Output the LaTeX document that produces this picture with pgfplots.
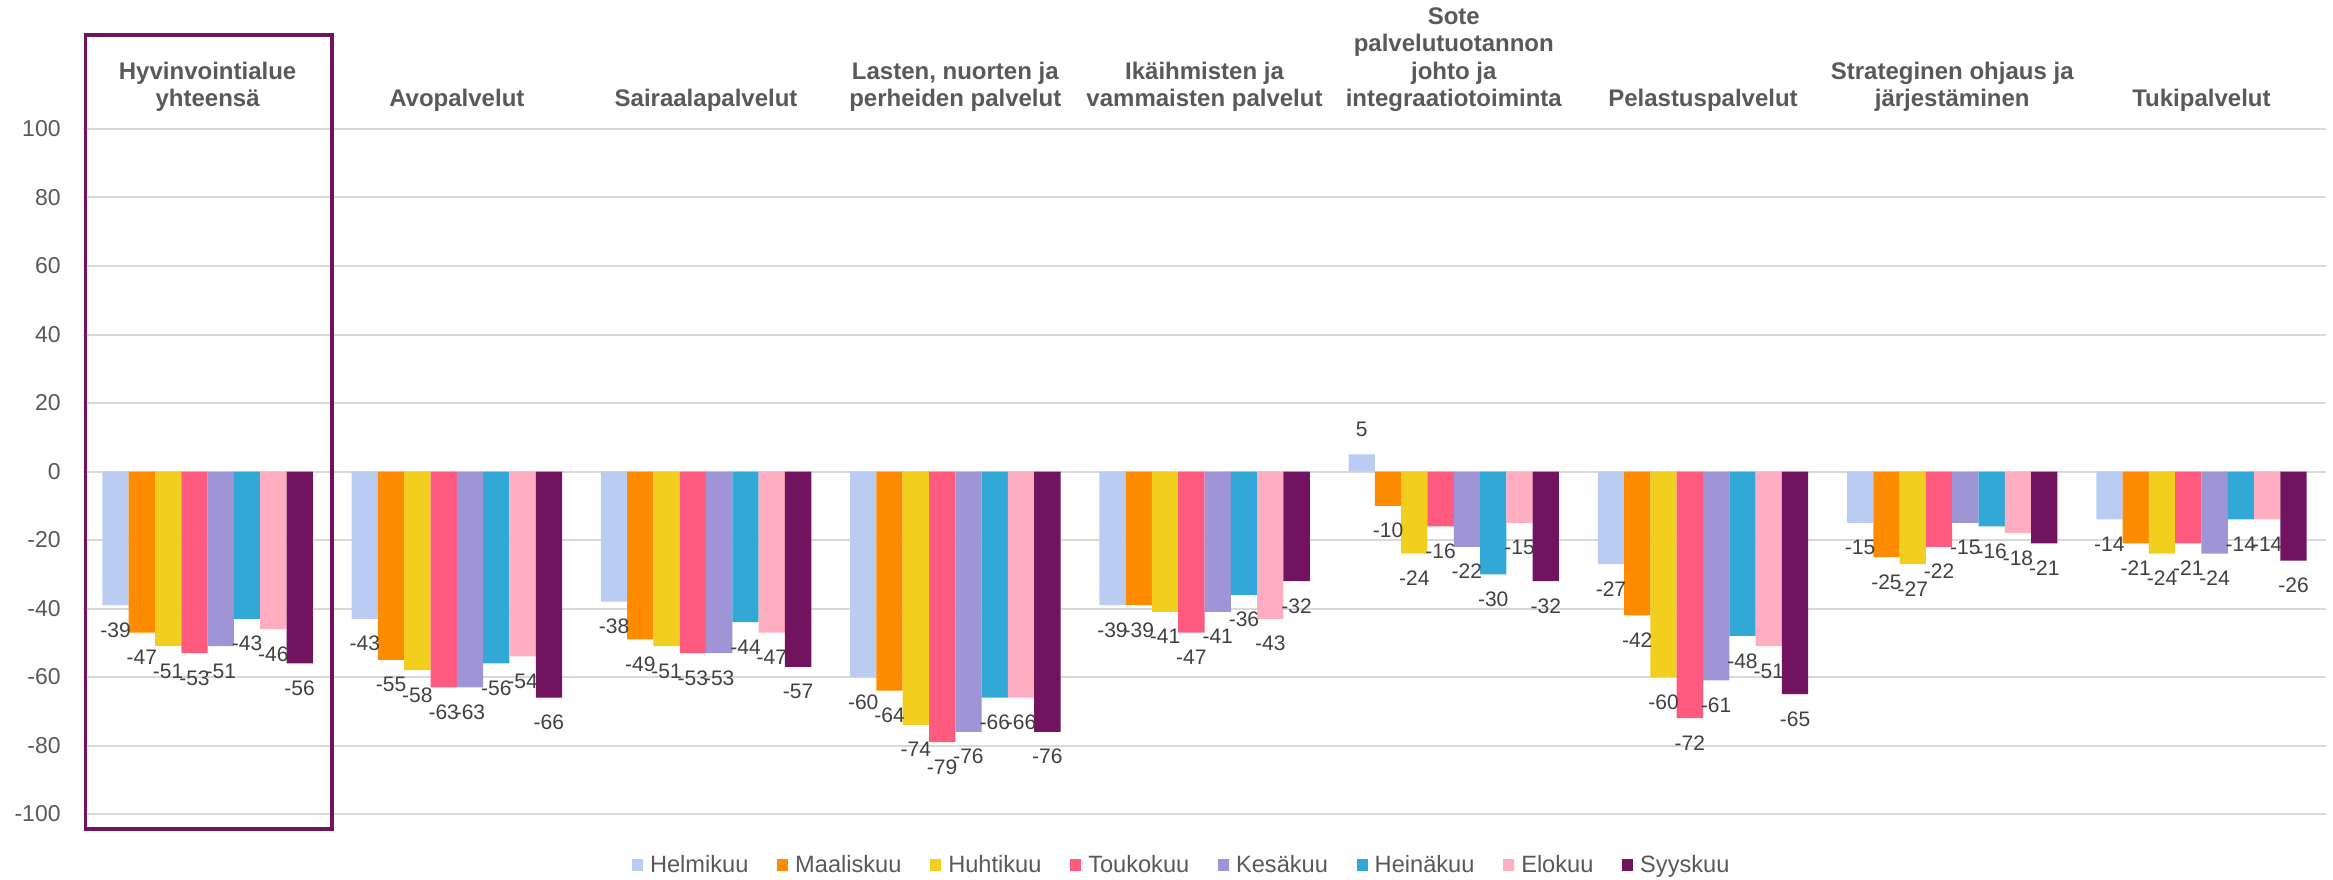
\documentclass[border=0pt]{standalone}
\usepackage{pgfplots}
\usepackage{pgfplotstable}
\pgfplotsset{compat=1.18}
\usepackage{fontspec}
\setmainfont{Liberation Sans}
\definecolor{c1}{HTML}{BBCCF2}
\definecolor{c2}{HTML}{FF8C00}
\definecolor{c3}{HTML}{F2CE1F}
\definecolor{c4}{HTML}{FF5A80}
\definecolor{c5}{HTML}{9F94D6}
\definecolor{c6}{HTML}{31A8D6}
\definecolor{c7}{HTML}{FFADC0}
\definecolor{c8}{HTML}{72135F}
\definecolor{txt}{HTML}{595959}
\definecolor{lbl}{HTML}{404040}
\definecolor{gridc}{HTML}{D9D9D9}
\newcommand{\lf}{\fontsize{11.8}{13}\selectfont}

\pgfplotstableread{
x  v1  v2  v3  v4  v5  v6  v7  v8
0 -39 -47 -51 -53 -51 -43 -46 -56
1 -43 -55 -58 -63 -63 -56 -54 -66
2 -38 -49 -51 -53 -53 -44 -47 -57
3 -60 -64 -74 -79 -76 -66 -66 -76
4 -39 -39 -41 -47 -41 -36 -43 -32
5   5 -10 -24 -16 -22 -30 -15 -32
6 -27 -42 -60 -72 -61 -48 -51 -65
7 -15 -25 -27 -22 -15 -16 -18 -21
8 -14 -21 -24 -21 -24 -14 -14 -26
}\data

\begin{document}
\begin{tikzpicture}
\begin{axis}[
  width=1121.5pt, height=342.5pt, scale only axis,
  xmin=-0.5, xmax=8.5, ymin=-100, ymax=100,
  ybar=0pt, bar width=13.15pt,
  clip=false,
  axis line style={draw=none},
  major tick length=0pt,
  ytick distance=20,
  ymajorgrids, grid style={gridc, line width=1pt},
  xtick={0,1,2,3,4,5,6,7,8},
  xticklabels={{Hyvinvointialue\\yhteensä},{Avopalvelut},{Sairaalapalvelut},{Lasten, nuorten ja\\perheiden palvelut},{Ikäihmisten ja\\vammaisten palvelut},{Sote\\palvelutuotannon\\johto ja\\integraatiotoiminta},{Pelastuspalvelut},{Strateginen ohjaus ja\\järjestäminen},{Tukipalvelut}},
  xticklabel pos=upper,
  xticklabel style={align=center, inner sep=0pt, yshift=8.5pt, text=txt, font=\bfseries\fontsize{12}{13.65}\selectfont},
  yticklabel style={anchor=east, inner sep=0pt, xshift=-11pt, text=txt, font=\fontsize{11.5}{13}\selectfont},
  /pgf/number format/assume math mode=true,
  nodes near coords,
  every node near coord/.append style={font=\fontsize{10.5}{12}\selectfont, text=lbl, inner xsep=0pt, inner ysep=8.5pt},
  legend columns=8,
  legend style={at={(0.4894,-0.0745)}, anchor=center, draw=none, fill=none, inner sep=0pt,
    font=\lf, text=txt,
    nodes={inner sep=0pt, text=txt},
    /tikz/every odd column/.append style={column sep=3.5pt},
    /tikz/every even column/.append style={column sep=14.4pt}},
  legend image code/.code={\fill[#1] (0pt,-3pt) rectangle (5.5pt,3pt);},
]
\addplot[fill=c1, draw=none] table[x=x,y=v1]{\data};
\addplot[fill=c2, draw=none] table[x=x,y=v2]{\data};
\addplot[fill=c3, draw=none] table[x=x,y=v3]{\data};
\addplot[fill=c4, draw=none] table[x=x,y=v4]{\data};
\addplot[fill=c5, draw=none] table[x=x,y=v5]{\data};
\addplot[fill=c6, draw=none] table[x=x,y=v6]{\data};
\addplot[fill=c7, draw=none] table[x=x,y=v7]{\data};
\addplot[fill=c8, draw=none] table[x=x,y=v8]{\data};
\legend{{\lf Helmikuu},{\lf Maaliskuu},{\lf Huhtikuu},{\lf Toukokuu},{\lf Kesäkuu},{\lf Heinäkuu},{\lf Elokuu},{\lf Syyskuu}}
\draw[line width=1.75pt, c8] (axis cs:-0.489,127.5) rectangle (axis cs:0.499,-104.4);
\path (rel axis cs:-0.0370,-0.0949) rectangle (rel axis cs:1.0031,1.1883);
\end{axis}
\end{tikzpicture}
\end{document}
